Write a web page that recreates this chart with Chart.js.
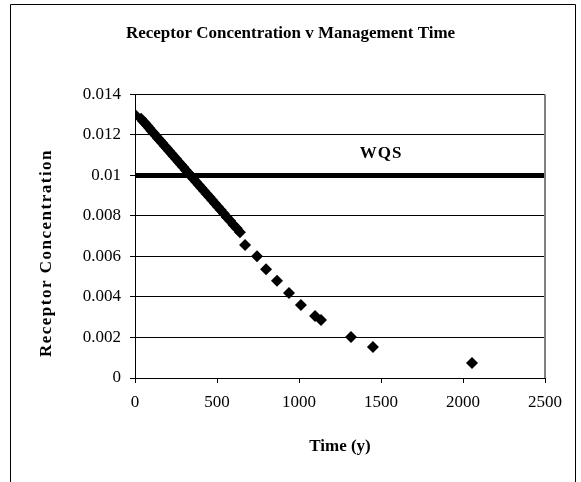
<!DOCTYPE html>
<html>
<head>
<meta charset="utf-8">
<title>Receptor Concentration v Management Time</title>
<script src="https://cdn.jsdelivr.net/npm/chart.js@4"></script>
<style>
  body { margin: 0; background: #fff; }
</style>
</head>
<body>
<canvas id="myChart" width="581" height="482"></canvas>
<script>
// Datos
const timeYears = [0, 37, 50, 62, 75, 88, 100, 113, 126, 140, 153, 166, 180, 194, 208, 222, 236, 250,
  265, 280, 295, 310, 325, 340, 356, 372, 388, 404, 420, 437, 454, 471, 488, 505, 523, 541, 560,
  580, 600, 620, 640, 671, 744, 799, 866, 939, 1012, 1098, 1134, 1317, 1451, 2055];
const concentration = [0.0130, 0.01280, 0.01268, 0.01257, 0.01245, 0.01233, 0.01221, 0.01209,
  0.01197, 0.01184, 0.01172, 0.01160, 0.01147, 0.01134, 0.01121, 0.01108, 0.01095, 0.01082,
  0.01068, 0.01054, 0.01040, 0.01026, 0.01012, 0.00998, 0.00983, 0.00969, 0.00954, 0.00939,
  0.00924, 0.00908, 0.00893, 0.00877, 0.00861, 0.00845, 0.00829, 0.00812, 0.00794, 0.00776,
  0.00757, 0.00739, 0.00720, 0.00656, 0.00601, 0.00537, 0.00480, 0.00420, 0.00360, 0.00306,
  0.00286, 0.00202, 0.00153, 0.00074];
const wqsLevel = 0.01;
const wqsSpan = [0, 2500];
const xTickLabels = ['0', '500', '1000', '1500', '2000', '2500'];
const yTickLabels = ['0', '0.002', '0.004', '0.006', '0.008', '0.01', '0.012', '0.014'];

const serif = "'Liberation Serif', 'Times New Roman', serif";

// Marco exterior, borde derecho del area, titulo del eje Y y etiqueta WQS
const decorations = {
  id: 'decorations',
  beforeDraw(chart) {
    const ctx = chart.ctx;
    ctx.save();
    ctx.fillStyle = '#fff';
    ctx.fillRect(0, 0, chart.width, chart.height);
    ctx.strokeStyle = '#000';
    ctx.lineWidth = 1;
    ctx.beginPath();
    ctx.moveTo(10.5, chart.height);
    ctx.lineTo(10.5, 4.5);
    ctx.lineTo(575.5, 4.5);
    ctx.lineTo(575.5, chart.height);
    ctx.stroke();
    ctx.restore();
  },
  afterDatasetsDraw(chart) {
    const ctx = chart.ctx;
    const area = chart.chartArea;
    ctx.save();
    ctx.strokeStyle = '#808080';
    ctx.lineWidth = 2;
    ctx.beginPath();
    ctx.moveTo(area.right, area.top);
    ctx.lineTo(area.right, area.bottom);
    ctx.stroke();

    ctx.fillStyle = '#000';
    ctx.font = 'bold 17px ' + serif;
    ctx.textAlign = 'center';
    ctx.textBaseline = 'middle';
    ctx.letterSpacing = '1px';
    const x = chart.scales.x.getPixelForValue(1500);
    const y = chart.scales.y.getPixelForValue(0.0111);
    ctx.fillText('WQS', x, y);

    // titulo del eje Y, con algo de espaciado como en el original
    ctx.letterSpacing = '1.5px';
    ctx.translate(47, 253);
    ctx.rotate(-Math.PI / 2);
    ctx.fillText('Receptor Concentration', 0, 0);
    ctx.restore();
  }
};

const ctx = document.getElementById('myChart').getContext('2d');
const myChart = new Chart(ctx, {
  type: 'scatter',
  data: {
    datasets: [{
      label: 'Receptor Concentration',
      data: timeYears.map((t, i) => ({ x: t, y: concentration[i] })),
      backgroundColor: '#000',
      borderColor: '#000',
      pointStyle: 'rectRot',
      pointRadius: 6,
      pointBorderWidth: 0,
      showLine: false
    }, {
      type: 'line',
      label: 'WQS',
      data: wqsSpan.map(t => ({ x: t, y: wqsLevel })),
      borderColor: '#000',
      borderWidth: 5,
      pointRadius: 0,
      fill: false
    }]
  },
  options: {
    responsive: false,
    animation: false,
    devicePixelRatio: 1,
    layout: { padding: 0 },
    plugins: {
      legend: { display: false },
      tooltip: { enabled: false },
      title: {
        display: true,
        text: 'Receptor Concentration v Management Time',
        color: '#000',
        font: { family: serif, size: 17, weight: 'bold' },
        padding: { top: 23, bottom: 51 }
      }
    },
    scales: {
      x: {
        type: 'linear',
        min: 0,
        max: 2500,
        afterFit: scale => { scale.height = 104; },
        ticks: {
          stepSize: 500,
          color: '#000',
          padding: 9,
          maxRotation: 0,
          font: { family: serif, size: 17 },
          callback: (v, i) => xTickLabels[i]
        },
        grid: { drawOnChartArea: false, drawTicks: true, tickLength: 5, color: '#000' },
        border: { color: '#000', width: 1 },
        title: {
          display: true,
          text: 'Time (y)',
          color: '#000',
          font: { family: serif, size: 17, weight: 'bold' },
          padding: { top: 0, bottom: 25 }
        }
      },
      y: {
        type: 'linear',
        min: 0,
        max: 0.014,
        afterFit: scale => { scale.width = 135; },
        ticks: {
          stepSize: 0.002,
          color: '#000',
          padding: 9,
          font: { family: serif, size: 17 },
          callback: (v, i) => yTickLabels[i]
        },
        grid: { color: '#000', tickLength: 5 },
        border: { color: '#000', width: 1 },
        title: { display: false }
      },
      // eje vacio a la derecha solo para reservar el margen
      yRight: {
        type: 'linear',
        position: 'right',
        min: 0,
        max: 0.014,
        afterFit: scale => { scale.width = 36; },
        ticks: { display: false },
        grid: { display: false },
        border: { display: false }
      }
    }
  },
  plugins: [decorations]
});
</script>
</body>
</html>
